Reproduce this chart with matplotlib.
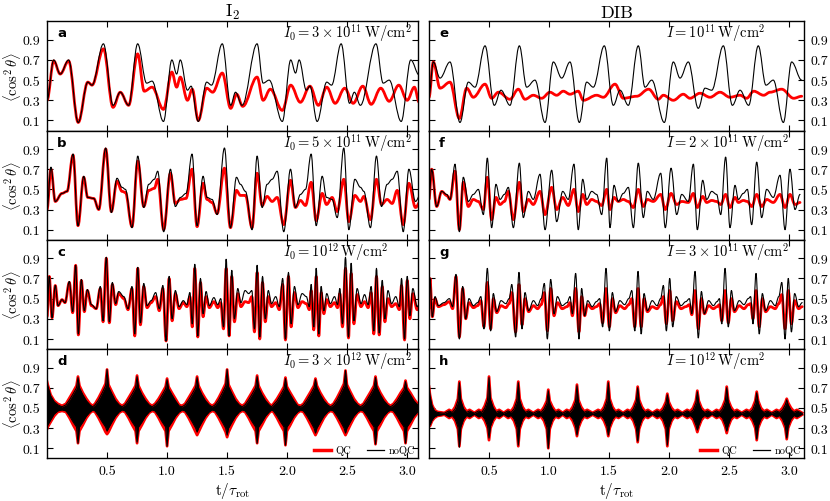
import matplotlib
matplotlib.use('Agg')
import matplotlib.pyplot as plt
from matplotlib.path import Path
from matplotlib.patches import PathPatch
from matplotlib.lines import Line2D

plt.rcParams['font.family'] = 'serif'
plt.rcParams['font.serif'] = ['cmr10']
plt.rcParams['mathtext.fontset'] = 'cm'
plt.rcParams['axes.formatter.use_mathtext'] = True
plt.rcParams['axes.unicode_minus'] = False

# ---------------- data: (t/tau_rot, <cos^2 theta>) extrema ----------------
a_qc = [(0.00,0.30),(0.056,0.69),(0.11,0.56),(0.18,0.69),(0.26,0.08),(0.34,0.48),(0.375,0.45),(0.47,0.81),
        (0.55,0.23),(0.61,0.38),(0.68,0.25),(0.755,0.76),(0.81,0.39),(0.875,0.43),(0.97,0.21),(1.04,0.58),
        (1.08,0.43),(1.11,0.53),(1.17,0.30),(1.21,0.41),(1.26,0.10),(1.33,0.42),(1.38,0.38),(1.46,0.57),
        (1.53,0.22),(1.58,0.36),(1.63,0.24),(1.75,0.53),(1.80,0.30),(1.86,0.41),(1.96,0.20),(2.03,0.45),
        (2.11,0.28),(2.19,0.44),(2.26,0.25),(2.33,0.43),(2.40,0.27),(2.48,0.42),(2.55,0.27),(2.63,0.44),
        (2.70,0.26),(2.78,0.42),(2.85,0.29),(2.93,0.45),(3.00,0.30),(3.06,0.43),(3.10,0.28)]
a_noqc = [(0.00,0.30),(0.056,0.70),(0.11,0.56),(0.18,0.70),(0.26,0.08),(0.34,0.48),(0.375,0.45),(0.47,0.86),
          (0.55,0.25),(0.61,0.38),(0.68,0.25),(0.755,0.86),(0.83,0.47),(0.875,0.49),(0.97,0.09),(1.04,0.70),
          (1.08,0.56),(1.11,0.70),(1.17,0.40),(1.20,0.44),(1.26,0.09),(1.33,0.48),(1.37,0.45),(1.46,0.86),
          (1.53,0.25),(1.57,0.38),(1.625,0.25),(1.75,0.86),(1.80,0.47),(1.85,0.50),(1.96,0.09),(2.03,0.70),
          (2.07,0.57),(2.10,0.70),(2.16,0.40),(2.19,0.44),(2.25,0.09),(2.33,0.48),(2.37,0.45),(2.45,0.86),
          (2.52,0.27),(2.56,0.38),(2.61,0.25),(2.74,0.86),(2.80,0.47),(2.85,0.50),(2.95,0.09),(3.03,0.70),(3.10,0.55)]

b_qc = [(0.00,0.30),(0.033,0.70),(0.069,0.38),(0.125,0.46),(0.167,0.48),(0.217,0.84),(0.258,0.14),(0.306,0.62),
        (0.339,0.42),(0.389,0.41),(0.431,0.30),(0.489,0.90),(0.536,0.28),(0.583,0.58),(0.625,0.48),(0.653,0.47),
        (0.708,0.13),(0.756,0.78),(0.806,0.33),(0.847,0.49),(0.894,0.51),(0.922,0.60),(0.972,0.10),(1.028,0.66),
        (1.069,0.36),(1.111,0.40),(1.158,0.41),(1.208,0.70),(1.25,0.13),(1.30,0.56),(1.333,0.40),(1.375,0.37),
        (1.417,0.26),(1.478,0.71),(1.528,0.12),(1.578,0.49),(1.611,0.44),(1.653,0.44),(1.708,0.12),(1.75,0.66),
        (1.792,0.34),(1.833,0.43),(1.875,0.38),(1.917,0.42),(1.972,0.15),(2.028,0.59),(2.069,0.32),(2.111,0.39),
        (2.153,0.34),(2.20,0.57),(2.242,0.19),(2.292,0.46),(2.328,0.35),(2.375,0.42),(2.417,0.28),(2.472,0.60),
        (2.514,0.18),(2.564,0.44),(2.611,0.38),(2.639,0.43),(2.694,0.20),(2.744,0.60),(2.786,0.35),(2.833,0.40),
        (2.875,0.36),(2.917,0.49),(2.967,0.15),(3.014,0.56),(3.069,0.32),(3.111,0.38)]
b_noqc = [(0.00,0.30),(0.033,0.72),(0.069,0.38),(0.125,0.46),(0.167,0.48),(0.217,0.85),(0.258,0.14),(0.306,0.63),
          (0.339,0.42),(0.389,0.41),(0.431,0.30),(0.489,0.91),(0.536,0.27),(0.583,0.61),(0.625,0.52),(0.653,0.50),
          (0.708,0.12),(0.756,0.83),(0.806,0.32),(0.847,0.55),(0.894,0.60),(0.922,0.68),(0.972,0.08),(1.028,0.70),
          (1.069,0.33),(1.111,0.42),(1.158,0.46),(1.208,0.85),(1.25,0.14),(1.30,0.63),(1.333,0.42),(1.375,0.40),
          (1.417,0.25),(1.478,0.91),(1.528,0.12),(1.578,0.62),(1.611,0.55),(1.653,0.48),(1.708,0.10),(1.75,0.83),
          (1.792,0.32),(1.833,0.55),(1.875,0.60),(1.917,0.68),(1.972,0.08),(2.028,0.70),(2.069,0.32),(2.111,0.45),
          (2.153,0.50),(2.20,0.85),(2.242,0.14),(2.292,0.63),(2.328,0.42),(2.375,0.40),(2.417,0.22),(2.472,0.91),
          (2.514,0.10),(2.564,0.60),(2.611,0.52),(2.639,0.48),(2.694,0.12),(2.744,0.83),(2.786,0.33),(2.833,0.55),
          (2.875,0.60),(2.917,0.68),(2.967,0.08),(3.014,0.70),(3.069,0.38),(3.111,0.45)]

c_qc = [(0.000,0.32),(0.019,0.72),(0.042,0.31),(0.069,0.63),(0.092,0.43),(0.125,0.49),(0.150,0.46),
        (0.186,0.66),(0.214,0.36),(0.239,0.83),(0.261,0.14),(0.286,0.68),(0.311,0.37),(0.336,0.58),(0.370,0.43),(0.410,0.40),
        (0.444,0.60),(0.467,0.27),(0.494,0.90),(0.519,0.26),(0.544,0.64),(0.572,0.44),(0.597,0.55),(0.640,0.50),(0.675,0.39),
        (0.708,0.60),(0.731,0.13),(0.756,0.80),(0.778,0.24),(0.806,0.62),(0.833,0.41),(0.867,0.46),(0.905,0.52),(0.935,0.38),
        (0.965,0.60),(0.992,0.08),(1.017,0.70),(1.042,0.28),(1.069,0.55),(1.100,0.40),(1.135,0.46),(1.165,0.42),
        (1.190,0.52),(1.210,0.22),(1.231,0.80),(1.256,0.12),(1.278,0.66),(1.300,0.32),(1.325,0.52),(1.352,0.41),(1.390,0.47),(1.422,0.41),
        (1.447,0.46),(1.470,0.20),(1.492,0.80),(1.517,0.13),(1.539,0.72),(1.561,0.27),(1.589,0.55),(1.615,0.42),(1.650,0.47),(1.680,0.46),
        (1.706,0.52),(1.728,0.17),(1.750,0.76),(1.772,0.10),(1.795,0.66),(1.818,0.27),(1.843,0.52),(1.870,0.42),(1.905,0.46),(1.935,0.39),
        (1.963,0.64),(1.986,0.09),(2.011,0.72),(2.033,0.22),(2.061,0.56),(2.090,0.41),(2.125,0.47),(2.160,0.45),(2.185,0.39),
        (2.200,0.58),(2.222,0.19),(2.242,0.72),(2.264,0.13),(2.283,0.56),(2.306,0.35),(2.330,0.49),(2.360,0.42),(2.395,0.46),(2.420,0.41),
        (2.439,0.55),(2.461,0.22),(2.486,0.80),(2.511,0.11),(2.533,0.75),(2.556,0.25),(2.583,0.54),(2.615,0.42),(2.645,0.47),(2.675,0.41),
        (2.700,0.56),(2.722,0.15),(2.744,0.72),(2.767,0.14),(2.792,0.62),(2.814,0.27),(2.840,0.50),(2.870,0.42),(2.905,0.45),(2.935,0.39),
        (2.953,0.63),(2.978,0.09),(3.000,0.68),(3.022,0.30),(3.047,0.55),(3.083,0.39),(3.110,0.42)]
c_noqc = [(0.000,0.32),(0.019,0.72),(0.042,0.31),(0.069,0.63),(0.092,0.43),(0.125,0.49),(0.150,0.46),
          (0.186,0.67),(0.214,0.37),(0.239,0.83),(0.261,0.15),(0.286,0.69),(0.311,0.38),(0.336,0.59),(0.370,0.44),(0.410,0.40),
          (0.444,0.62),(0.467,0.28),(0.494,0.91),(0.519,0.27),(0.544,0.66),(0.572,0.45),(0.597,0.57),(0.640,0.52),(0.675,0.40),
          (0.708,0.62),(0.731,0.15),(0.756,0.81),(0.778,0.26),(0.806,0.65),(0.833,0.43),(0.867,0.48),(0.905,0.56),(0.935,0.40),
          (0.965,0.63),(0.992,0.08),(1.017,0.72),(1.042,0.30),(1.069,0.58),(1.100,0.42),(1.135,0.48),(1.165,0.44),
          (1.190,0.56),(1.210,0.25),(1.231,0.84),(1.256,0.13),(1.278,0.70),(1.300,0.35),(1.325,0.57),(1.352,0.43),(1.390,0.51),(1.422,0.44),
          (1.447,0.50),(1.470,0.22),(1.492,0.89),(1.517,0.13),(1.539,0.78),(1.561,0.30),(1.589,0.60),(1.615,0.46),(1.650,0.58),(1.680,0.55),
          (1.706,0.58),(1.728,0.20),(1.750,0.83),(1.772,0.12),(1.795,0.72),(1.818,0.30),(1.843,0.58),(1.870,0.45),(1.905,0.52),(1.935,0.42),
          (1.963,0.70),(1.986,0.10),(2.011,0.76),(2.033,0.25),(2.061,0.62),(2.090,0.44),(2.125,0.55),(2.160,0.52),(2.185,0.42),
          (2.200,0.64),(2.222,0.22),(2.242,0.80),(2.264,0.15),(2.283,0.62),(2.306,0.38),(2.330,0.55),(2.360,0.45),(2.395,0.52),(2.420,0.44),
          (2.439,0.60),(2.461,0.25),(2.486,0.91),(2.511,0.12),(2.533,0.85),(2.556,0.28),(2.583,0.60),(2.615,0.45),(2.645,0.54),(2.675,0.44),
          (2.700,0.62),(2.722,0.18),(2.744,0.80),(2.767,0.16),(2.792,0.68),(2.814,0.30),(2.840,0.58),(2.870,0.45),(2.905,0.52),(2.935,0.42),
          (2.953,0.70),(2.978,0.10),(3.000,0.72),(3.022,0.33),(3.047,0.60),(3.083,0.42),(3.110,0.48)]

e_qc = [(0.00,0.33),(0.036,0.68),(0.092,0.42),(0.175,0.48),(0.253,0.12),(0.314,0.42),(0.369,0.33),(0.467,0.46),
        (0.522,0.32),(0.578,0.38),(0.675,0.31),(0.744,0.41),(0.80,0.31),(0.869,0.35),(0.939,0.32),(1.008,0.38),
        (1.064,0.35),(1.119,0.39),(1.175,0.36),(1.244,0.39),(1.286,0.30),(1.397,0.35),(1.453,0.33),(1.55,0.46),
        (1.619,0.32),(1.731,0.34),(1.83,0.41),(1.911,0.31),(1.953,0.35),(2.036,0.30),(2.119,0.36),(2.175,0.32),
        (2.258,0.37),(2.342,0.33),(2.425,0.38),(2.508,0.33),(2.592,0.35),(2.647,0.32),(2.706,0.39),(2.789,0.35),
        (2.842,0.38),(2.939,0.41),(3.039,0.32),(3.106,0.34)]
e_noqc = [(0.00,0.35),(0.036,0.68),(0.092,0.52),(0.175,0.68),(0.258,0.08),(0.328,0.48),(0.383,0.43),(0.467,0.84),
          (0.544,0.25),(0.60,0.40),(0.675,0.25),(0.753,0.84),(0.814,0.43),(0.883,0.50),(0.967,0.08),(1.036,0.68),
          (1.106,0.52),(1.175,0.68),(1.253,0.08),(1.314,0.48),(1.369,0.43),(1.461,0.84),(1.536,0.25),(1.592,0.40),
          (1.661,0.25),(1.744,0.84),(1.80,0.43),(1.856,0.50),(1.961,0.08),(2.036,0.68),(2.092,0.52),(2.161,0.68),
          (2.244,0.22),(2.300,0.42),(2.356,0.40),(2.453,0.84),(2.528,0.25),(2.592,0.40),(2.664,0.25),(2.744,0.84),
          (2.808,0.45),(2.869,0.50),(2.953,0.08),(3.022,0.68),(3.106,0.50)]

f_qc = [(0.0,0.40),(0.022,0.70),(0.064,0.33),(0.106,0.48),(0.147,0.44),(0.175,0.40),(0.217,0.68),(0.253,0.10),
        (0.286,0.57),(0.328,0.33),(0.369,0.40),(0.411,0.38),(0.453,0.30),(0.486,0.62),(0.522,0.20),(0.558,0.42),
        (0.592,0.35),(0.628,0.38),(0.661,0.48),(0.703,0.20),(0.753,0.57),(0.786,0.28),(0.828,0.40),(0.869,0.35),
        (0.925,0.48),(0.967,0.25),(1.022,0.52),(1.064,0.30),(1.114,0.42),(1.161,0.34),(1.208,0.50),(1.244,0.28),
        (1.281,0.45),(1.314,0.35),(1.356,0.40),(1.397,0.38),(1.439,0.34),(1.481,0.50),(1.508,0.30),(1.542,0.42),
        (1.578,0.38),(1.619,0.40),(1.661,0.38),(1.703,0.32),(1.744,0.50),(1.786,0.33),(1.819,0.40),(1.869,0.38),
        (1.931,0.45),(1.969,0.30),(2.017,0.46),(2.064,0.35),(2.106,0.38),(2.161,0.37),(2.203,0.46),(2.236,0.32),
        (2.281,0.43),(2.314,0.37),(2.356,0.39),(2.397,0.38),(2.431,0.35),(2.472,0.45),(2.508,0.32),(2.55,0.42),
        (2.578,0.37),(2.619,0.39),(2.653,0.38),(2.689,0.33),(2.731,0.45),(2.772,0.33),(2.814,0.40),(2.869,0.37),
        (2.925,0.45),(2.967,0.32),(3.008,0.45),(3.05,0.35),(3.092,0.37)]
f_noqc = [(0.0,0.40),(0.022,0.70),(0.064,0.33),(0.106,0.48),(0.147,0.45),(0.175,0.40),(0.217,0.75),(0.253,0.08),
          (0.286,0.62),(0.328,0.38),(0.369,0.45),(0.411,0.50),(0.453,0.25),(0.486,0.81),(0.522,0.12),(0.558,0.55),
          (0.592,0.40),(0.628,0.45),(0.661,0.52),(0.703,0.12),(0.753,0.76),(0.786,0.22),(0.828,0.48),(0.869,0.40),
          (0.925,0.65),(0.967,0.10),(1.022,0.69),(1.064,0.18),(1.114,0.48),(1.161,0.40),(1.208,0.75),(1.244,0.10),
          (1.281,0.60),(1.314,0.40),(1.356,0.48),(1.397,0.45),(1.439,0.25),(1.481,0.81),(1.508,0.12),(1.542,0.54),
          (1.578,0.38),(1.619,0.46),(1.661,0.52),(1.703,0.12),(1.744,0.76),(1.786,0.22),(1.819,0.48),(1.869,0.40),
          (1.931,0.66),(1.969,0.12),(2.017,0.71),(2.064,0.25),(2.106,0.45),(2.161,0.38),(2.203,0.75),(2.236,0.10),
          (2.281,0.59),(2.314,0.40),(2.356,0.48),(2.397,0.45),(2.431,0.25),(2.472,0.82),(2.508,0.12),(2.55,0.54),
          (2.578,0.40),(2.619,0.46),(2.653,0.50),(2.689,0.15),(2.731,0.77),(2.772,0.22),(2.814,0.50),(2.869,0.42),
          (2.925,0.64),(2.967,0.10),(3.008,0.70),(3.05,0.30),(3.092,0.45)]

g_qc = [(0.000,0.40),(0.008,0.70),(0.028,0.32),(0.050,0.50),(0.078,0.42),(0.125,0.44),(0.170,0.47),(0.197,0.40),
        (0.225,0.72),(0.253,0.12),(0.281,0.60),(0.306,0.30),(0.333,0.46),(0.370,0.41),(0.405,0.43),(0.432,0.48),
        (0.458,0.22),(0.486,0.66),(0.514,0.20),(0.536,0.50),(0.564,0.36),(0.600,0.43),(0.640,0.41),(0.668,0.45),
        (0.690,0.56),(0.722,0.17),(0.750,0.64),(0.775,0.24),(0.800,0.50),(0.830,0.37),(0.870,0.43),(0.905,0.40),(0.935,0.44),
        (0.961,0.56),(0.986,0.18),(1.014,0.60),(1.042,0.33),(1.070,0.46),(1.110,0.40),(1.150,0.42),(1.175,0.46),
        (1.195,0.33),(1.222,0.60),(1.250,0.17),(1.272,0.52),(1.297,0.33),(1.322,0.44),(1.360,0.40),(1.395,0.42),(1.422,0.45),
        (1.447,0.26),(1.475,0.60),(1.503,0.22),(1.528,0.50),(1.555,0.36),(1.590,0.43),(1.630,0.40),(1.665,0.44),
        (1.690,0.50),(1.715,0.22),(1.742,0.60),(1.768,0.22),(1.792,0.50),(1.820,0.37),(1.860,0.42),(1.900,0.40),(1.930,0.44),
        (1.953,0.52),(1.978,0.25),(2.006,0.58),(2.031,0.28),(2.060,0.47),(2.100,0.40),(2.140,0.42),(2.170,0.44),
        (2.190,0.34),(2.217,0.58),(2.244,0.20),(2.270,0.50),(2.295,0.35),(2.330,0.43),(2.370,0.40),(2.400,0.42),(2.420,0.44),
        (2.440,0.28),(2.467,0.58),(2.494,0.26),(2.520,0.50),(2.545,0.37),(2.585,0.43),(2.625,0.40),(2.660,0.44),(2.680,0.45),
        (2.700,0.30),(2.725,0.58),(2.752,0.22),(2.778,0.50),(2.805,0.37),(2.845,0.42),(2.885,0.40),(2.915,0.45),
        (2.940,0.54),(2.967,0.20),(2.994,0.58),(3.020,0.25),(3.047,0.48),(3.080,0.40),(3.110,0.42)]
g_noqc = [(0.000,0.40),(0.008,0.70),(0.028,0.32),(0.050,0.52),(0.078,0.43),(0.125,0.46),(0.170,0.50),(0.197,0.42),
          (0.225,0.74),(0.253,0.10),(0.281,0.62),(0.306,0.30),(0.333,0.50),(0.370,0.43),(0.405,0.46),(0.432,0.52),
          (0.458,0.20),(0.486,0.80),(0.514,0.18),(0.536,0.55),(0.564,0.37),(0.600,0.48),(0.640,0.45),(0.668,0.50),
          (0.690,0.64),(0.722,0.12),(0.750,0.76),(0.775,0.20),(0.800,0.56),(0.830,0.38),(0.870,0.48),(0.905,0.43),(0.935,0.50),
          (0.961,0.65),(0.986,0.10),(1.014,0.69),(1.042,0.35),(1.070,0.52),(1.110,0.43),(1.150,0.46),(1.175,0.52),
          (1.195,0.35),(1.222,0.75),(1.250,0.10),(1.272,0.60),(1.297,0.33),(1.322,0.48),(1.360,0.42),(1.395,0.47),(1.422,0.50),
          (1.447,0.22),(1.475,0.80),(1.503,0.18),(1.528,0.56),(1.555,0.37),(1.590,0.48),(1.630,0.44),(1.665,0.50),
          (1.690,0.58),(1.715,0.18),(1.742,0.77),(1.768,0.15),(1.792,0.55),(1.820,0.38),(1.860,0.48),(1.900,0.43),(1.930,0.50),
          (1.953,0.63),(1.978,0.18),(2.006,0.70),(2.031,0.22),(2.060,0.52),(2.100,0.43),(2.140,0.47),(2.170,0.50),
          (2.190,0.35),(2.217,0.77),(2.244,0.11),(2.270,0.57),(2.295,0.35),(2.330,0.48),(2.370,0.43),(2.400,0.47),(2.420,0.50),
          (2.440,0.25),(2.467,0.80),(2.494,0.22),(2.520,0.58),(2.545,0.38),(2.585,0.48),(2.625,0.44),(2.660,0.50),(2.680,0.52),
          (2.700,0.25),(2.725,0.75),(2.752,0.15),(2.778,0.55),(2.805,0.38),(2.845,0.48),(2.885,0.43),(2.915,0.52),
          (2.940,0.66),(2.967,0.10),(2.994,0.70),(3.020,0.17),(3.047,0.55),(3.080,0.42),(3.110,0.46)]

# dense panels d, h: envelope (upper / lower) of the fast oscillation
d_t = [0.000,0.006,0.030,0.060,0.090,0.125,
       0.158,0.188,0.218,0.246,0.258,0.270,0.298,0.328,0.358,0.380,
       0.400,0.430,0.460,0.488,0.500,0.512,0.540,0.570,0.600,0.625,
       0.650,0.680,0.710,0.738,0.750,0.762,0.790,0.820,0.850,0.875,
       0.900,0.930,0.960,0.988,1.000,1.012,1.040,1.070,1.100,1.125,
       1.150,1.180,1.210,1.238,1.250,1.262,1.290,1.320,1.350,1.375,
       1.400,1.430,1.460,1.488,1.500,1.512,1.540,1.570,1.600,1.625,
       1.650,1.680,1.710,1.738,1.750,1.762,1.790,1.820,1.850,1.870,
       1.886,1.916,1.946,1.974,1.986,1.998,2.026,2.056,2.086,2.111,
       2.136,2.166,2.196,2.224,2.236,2.248,2.276,2.306,2.336,2.361,
       2.386,2.416,2.446,2.474,2.486,2.498,2.526,2.556,2.586,2.611,
       2.636,2.666,2.696,2.724,2.736,2.748,2.776,2.806,2.836,2.861,
       2.886,2.916,2.946,2.974,2.986,2.998,3.026,3.056,3.086,3.110]
d_noqc_hi = [0.75,0.72,0.62,0.56,0.53,0.51,
             0.53,0.58,0.64,0.70,0.80,0.70,0.63,0.57,0.53,0.51,
             0.53,0.58,0.65,0.72,0.88,0.71,0.64,0.57,0.53,0.51,
             0.53,0.58,0.64,0.70,0.81,0.70,0.63,0.57,0.53,0.51,
             0.53,0.57,0.63,0.69,0.78,0.69,0.63,0.57,0.52,0.51,
             0.53,0.58,0.64,0.70,0.80,0.70,0.63,0.57,0.53,0.51,
             0.53,0.58,0.65,0.72,0.88,0.71,0.64,0.57,0.53,0.51,
             0.53,0.58,0.64,0.70,0.81,0.70,0.63,0.57,0.53,0.51,
             0.53,0.57,0.63,0.69,0.79,0.69,0.63,0.57,0.52,0.51,
             0.53,0.58,0.64,0.70,0.78,0.70,0.63,0.57,0.53,0.51,
             0.53,0.58,0.65,0.72,0.87,0.71,0.64,0.57,0.53,0.51,
             0.53,0.58,0.64,0.70,0.80,0.70,0.63,0.57,0.53,0.51,
             0.53,0.57,0.63,0.68,0.76,0.68,0.63,0.57,0.53,0.52]
d_noqc_lo = [0.30,0.33,0.38,0.44,0.47,0.48,
             0.47,0.42,0.36,0.31,0.15,0.31,0.36,0.42,0.46,0.48,
             0.47,0.42,0.36,0.31,0.27,0.30,0.36,0.42,0.46,0.48,
             0.47,0.42,0.36,0.31,0.16,0.31,0.36,0.42,0.46,0.48,
             0.47,0.42,0.36,0.31,0.12,0.31,0.36,0.42,0.46,0.48,
             0.47,0.42,0.36,0.30,0.26,0.30,0.36,0.42,0.46,0.48,
             0.47,0.42,0.36,0.30,0.23,0.30,0.36,0.42,0.46,0.48,
             0.47,0.42,0.36,0.31,0.15,0.31,0.36,0.42,0.46,0.48,
             0.47,0.42,0.36,0.31,0.13,0.31,0.36,0.42,0.46,0.48,
             0.47,0.42,0.36,0.30,0.25,0.30,0.36,0.42,0.46,0.48,
             0.47,0.42,0.36,0.30,0.25,0.30,0.36,0.42,0.46,0.48,
             0.47,0.42,0.36,0.31,0.14,0.31,0.36,0.42,0.46,0.48,
             0.47,0.42,0.36,0.31,0.15,0.31,0.36,0.42,0.46,0.47]
d_qc_hi = [0.76,0.73,0.63,0.57,0.54,0.52,
           0.54,0.60,0.66,0.72,0.81,0.72,0.65,0.59,0.54,0.52,
           0.54,0.60,0.67,0.74,0.88,0.73,0.66,0.59,0.54,0.52,
           0.54,0.60,0.66,0.72,0.82,0.72,0.65,0.59,0.54,0.52,
           0.54,0.59,0.65,0.71,0.79,0.71,0.65,0.59,0.53,0.52,
           0.54,0.60,0.66,0.72,0.81,0.72,0.65,0.59,0.54,0.52,
           0.54,0.60,0.67,0.74,0.88,0.73,0.66,0.59,0.54,0.52,
           0.54,0.60,0.66,0.72,0.82,0.72,0.65,0.59,0.54,0.52,
           0.54,0.59,0.65,0.71,0.80,0.71,0.65,0.59,0.53,0.52,
           0.54,0.60,0.66,0.72,0.79,0.72,0.65,0.59,0.54,0.52,
           0.54,0.60,0.67,0.74,0.87,0.73,0.66,0.59,0.54,0.52,
           0.54,0.60,0.66,0.72,0.81,0.72,0.65,0.59,0.54,0.52,
           0.54,0.59,0.65,0.70,0.77,0.70,0.65,0.59,0.54,0.53]
d_qc_lo = [0.29,0.31,0.36,0.42,0.46,0.47,
           0.46,0.40,0.33,0.27,0.15,0.27,0.33,0.40,0.45,0.47,
           0.46,0.40,0.33,0.26,0.24,0.26,0.33,0.40,0.45,0.47,
           0.46,0.40,0.33,0.27,0.15,0.27,0.33,0.40,0.45,0.47,
           0.46,0.40,0.33,0.27,0.12,0.27,0.33,0.40,0.45,0.47,
           0.46,0.40,0.33,0.26,0.23,0.26,0.33,0.40,0.45,0.47,
           0.46,0.40,0.33,0.26,0.21,0.26,0.33,0.40,0.45,0.47,
           0.46,0.40,0.33,0.27,0.15,0.27,0.33,0.40,0.45,0.47,
           0.46,0.40,0.33,0.27,0.13,0.27,0.33,0.40,0.45,0.47,
           0.46,0.40,0.33,0.26,0.23,0.26,0.33,0.40,0.45,0.47,
           0.46,0.40,0.33,0.26,0.23,0.26,0.33,0.40,0.45,0.47,
           0.46,0.40,0.33,0.27,0.14,0.27,0.33,0.40,0.45,0.47,
           0.46,0.40,0.33,0.27,0.15,0.27,0.33,0.40,0.45,0.46]

h_t = [0.000,0.008,0.025,0.045,0.070,0.100,0.128,
       0.168,0.193,0.218,0.241,0.253,0.265,0.288,0.313,0.338,0.378,
       0.415,0.440,0.465,0.488,0.500,0.512,0.535,0.560,0.585,0.622,
       0.659,0.684,0.709,0.732,0.744,0.756,0.779,0.804,0.829,0.869,
       0.909,0.934,0.959,0.982,0.994,1.006,1.029,1.054,1.079,1.114,
       1.148,1.173,1.198,1.221,1.233,1.245,1.268,1.293,1.318,1.364,
       1.409,1.434,1.459,1.482,1.494,1.506,1.529,1.554,1.579,1.617,
       1.654,1.679,1.704,1.727,1.739,1.751,1.774,1.799,1.824,1.862,
       1.901,1.926,1.951,1.974,1.986,1.998,2.021,2.046,2.071,2.111,
       2.151,2.176,2.201,2.224,2.236,2.248,2.271,2.296,2.321,2.358,
       2.396,2.421,2.446,2.469,2.481,2.493,2.516,2.541,2.566,2.606,
       2.646,2.671,2.696,2.719,2.731,2.743,2.766,2.791,2.816,2.856,
       2.896,2.921,2.946,2.969,2.981,2.993,3.016,3.041,3.066,3.110]
h_noqc_hi = [0.70,0.62,0.52,0.47,0.455,0.45,0.447,
             0.47,0.455,0.49,0.57,0.75,0.57,0.49,0.455,0.47,0.447,
             0.47,0.455,0.50,0.58,0.80,0.58,0.50,0.455,0.47,0.447,
             0.47,0.455,0.49,0.57,0.75,0.57,0.49,0.455,0.47,0.447,
             0.47,0.455,0.49,0.55,0.67,0.55,0.49,0.455,0.47,0.447,
             0.47,0.455,0.49,0.56,0.72,0.56,0.49,0.455,0.47,0.447,
             0.47,0.455,0.49,0.57,0.75,0.57,0.49,0.455,0.47,0.447,
             0.47,0.455,0.49,0.56,0.70,0.56,0.49,0.455,0.47,0.447,
             0.47,0.455,0.48,0.54,0.63,0.54,0.48,0.455,0.47,0.447,
             0.47,0.455,0.48,0.55,0.66,0.55,0.48,0.455,0.47,0.447,
             0.47,0.455,0.49,0.56,0.70,0.56,0.49,0.455,0.47,0.447,
             0.47,0.455,0.48,0.55,0.65,0.55,0.48,0.455,0.47,0.447,
             0.47,0.455,0.48,0.53,0.58,0.53,0.48,0.455,0.47,0.447]
h_noqc_lo = [0.35,0.33,0.38,0.41,0.425,0.43,0.437,
             0.41,0.425,0.39,0.31,0.11,0.31,0.39,0.425,0.41,0.437,
             0.41,0.425,0.39,0.32,0.20,0.32,0.39,0.425,0.41,0.437,
             0.41,0.425,0.39,0.31,0.13,0.31,0.39,0.425,0.41,0.437,
             0.41,0.425,0.39,0.31,0.10,0.31,0.39,0.425,0.41,0.437,
             0.41,0.425,0.39,0.32,0.23,0.32,0.39,0.425,0.41,0.437,
             0.41,0.425,0.39,0.32,0.23,0.32,0.39,0.425,0.41,0.437,
             0.41,0.425,0.39,0.31,0.17,0.31,0.39,0.425,0.41,0.437,
             0.41,0.425,0.39,0.31,0.13,0.31,0.39,0.425,0.41,0.437,
             0.41,0.425,0.40,0.33,0.28,0.33,0.40,0.425,0.41,0.437,
             0.41,0.425,0.40,0.33,0.27,0.33,0.40,0.425,0.41,0.437,
             0.41,0.425,0.39,0.32,0.19,0.32,0.39,0.425,0.41,0.437,
             0.41,0.425,0.39,0.32,0.20,0.32,0.39,0.425,0.41,0.437]
h_qc_hi = [0.71,0.63,0.53,0.48,0.46,0.455,0.45,
           0.48,0.465,0.51,0.59,0.76,0.59,0.51,0.465,0.48,0.45,
           0.48,0.465,0.52,0.60,0.81,0.60,0.52,0.465,0.48,0.45,
           0.48,0.465,0.51,0.59,0.76,0.59,0.51,0.465,0.48,0.45,
           0.48,0.465,0.51,0.57,0.68,0.57,0.51,0.465,0.48,0.45,
           0.48,0.465,0.51,0.58,0.73,0.58,0.51,0.465,0.48,0.45,
           0.48,0.465,0.51,0.59,0.76,0.59,0.51,0.465,0.48,0.45,
           0.48,0.465,0.51,0.58,0.71,0.58,0.51,0.465,0.48,0.45,
           0.48,0.465,0.50,0.56,0.64,0.56,0.50,0.465,0.48,0.45,
           0.48,0.465,0.50,0.57,0.67,0.57,0.50,0.465,0.48,0.45,
           0.48,0.465,0.51,0.58,0.71,0.58,0.51,0.465,0.48,0.45,
           0.48,0.465,0.50,0.57,0.66,0.57,0.50,0.465,0.48,0.45,
           0.48,0.465,0.50,0.55,0.59,0.55,0.50,0.465,0.48,0.45]
h_qc_lo = [0.34,0.32,0.37,0.40,0.42,0.425,0.433,
           0.40,0.415,0.37,0.29,0.12,0.29,0.37,0.415,0.40,0.433,
           0.40,0.415,0.37,0.30,0.18,0.30,0.37,0.415,0.40,0.433,
           0.40,0.415,0.37,0.29,0.12,0.29,0.37,0.415,0.40,0.433,
           0.40,0.415,0.37,0.29,0.10,0.29,0.37,0.415,0.40,0.433,
           0.40,0.415,0.37,0.30,0.22,0.30,0.37,0.415,0.40,0.433,
           0.40,0.415,0.37,0.30,0.22,0.30,0.37,0.415,0.40,0.433,
           0.40,0.415,0.37,0.29,0.16,0.29,0.37,0.415,0.40,0.433,
           0.40,0.415,0.37,0.29,0.12,0.29,0.37,0.415,0.40,0.433,
           0.40,0.415,0.38,0.31,0.26,0.31,0.38,0.415,0.40,0.433,
           0.40,0.415,0.38,0.31,0.25,0.31,0.38,0.415,0.40,0.433,
           0.40,0.415,0.37,0.30,0.18,0.30,0.37,0.415,0.40,0.433,
           0.40,0.415,0.37,0.30,0.19,0.30,0.37,0.415,0.40,0.433]

letters = ['a', 'b', 'c', 'd', 'e', 'f', 'g', 'h']
left_labels = [r'$I_0 = 3\times10^{11}\,\mathrm{W/cm^2}$', r'$I_0 = 5\times10^{11}\,\mathrm{W/cm^2}$',
               r'$I_0 = 10^{12}\,\mathrm{W/cm^2}$', r'$I_0 = 3\times10^{12}\,\mathrm{W/cm^2}$']
right_labels = [r'$I = 10^{11}\,\mathrm{W/cm^2}$', r'$I = 2\times10^{11}\,\mathrm{W/cm^2}$',
                r'$I = 3\times10^{11}\,\mathrm{W/cm^2}$', r'$I = 10^{12}\,\mathrm{W/cm^2}$']
col_titles = [r'$\mathrm{I}_2$', 'DIB']
xticks = [0.5, 1.0, 1.5, 2.0, 2.5, 3.0]
xticklabels = ['0.5', '1.0', '1.5', '2.0', '2.5', '3.0']
yticks = [0.1, 0.3, 0.5, 0.7, 0.9]
yticklabels = ['0.1', '0.3', '0.5', '0.7', '0.9']

RED = '#ff0000'
LW_RED, LW_BLK = 2.0, 0.8


def smooth_curve(ax, pts, color, lw, z):
    """Draw a smooth line through the read extrema (horizontal tangent at each)."""
    k = 0.3642
    verts = [pts[0]]
    codes = [Path.MOVETO]
    for (x0, y0), (x1, y1) in zip(pts[:-1], pts[1:]):
        dx = x1 - x0
        verts += [(x0 + k * dx, y0), (x1 - k * dx, y1), (x1, y1)]
        codes += [Path.CURVE4] * 3
    ax.add_patch(PathPatch(Path(verts, codes), facecolor='none', edgecolor=color,
                           lw=lw, joinstyle='round', capstyle='round', zorder=z))


def envelope(ax, t, hi, lo, color, lw, z):
    ax.fill_between(t, lo, hi, color=color, lw=0, zorder=z)
    ax.plot(t, hi, color=color, lw=lw, zorder=z)
    ax.plot(t, lo, color=color, lw=lw, zorder=z)


fig = plt.figure(figsize=(8.3, 5.02), dpi=100)
W, H = 830.0, 502.0
row_h = 109.25
top0 = 22.3
cols = [(47.0, 371.0, 3.09), (429.0, 375.0, 3.125)]

axes = {}
for ci, (x0, w, xmax) in enumerate(cols):
    for ri in range(4):
        top = top0 + ri * row_h
        ax = fig.add_axes([x0 / W, 1 - (top + row_h) / H, w / W, row_h / H])
        ax.set_xlim(0, xmax)
        ax.set_ylim(0, 1.083)
        ax.set_xticks(xticks)
        ax.set_yticks(yticks)
        ax.tick_params(direction='in', top=True, bottom=True, left=True, right=True,
                       length=4, width=0.8, labelsize=10, pad=5)
        if ri == 3:
            ax.set_xticklabels(xticklabels)
            ax.set_xlabel(r'$\mathrm{t}/\tau_{\mathrm{rot}}$', fontsize=11, labelpad=2)
        else:
            ax.set_xticklabels([])
        ax.set_yticklabels(yticklabels)
        if ci == 0:
            ax.set_ylabel(r'$\langle\cos^2\theta\rangle$', fontsize=10.5)
            ax.yaxis.set_label_coords(-0.066, 0.5)
        else:
            ax.tick_params(labelleft=False, labelright=True)
        for sp in ax.spines.values():
            sp.set_linewidth(1.0)
        letter = letters[ci * 4 + ri]
        ax.text(0.027, 0.895, letter, transform=ax.transAxes, fontsize=9.5,
                fontfamily='DejaVu Sans', fontweight='bold', va='center', ha='left')
        lab = left_labels[ri] if ci == 0 else right_labels[ri]
        ax.text(0.637 if ci == 0 else 0.633, 0.89, lab, transform=ax.transAxes,
                fontsize=10.5, va='center', ha='left')
        if ri == 0:
            ax.set_title(col_titles[ci], fontsize=13, pad=3)
        axes[letter] = ax

smooth_pairs = {'a': (a_qc, a_noqc), 'b': (b_qc, b_noqc), 'c': (c_qc, c_noqc),
                'e': (e_qc, e_noqc), 'f': (f_qc, f_noqc), 'g': (g_qc, g_noqc)}
for key, (qc, noqc) in smooth_pairs.items():
    smooth_curve(axes[key], qc, RED, LW_RED, 2)
    smooth_curve(axes[key], noqc, 'black', LW_BLK, 3)

envelope(axes['d'], d_t, d_qc_hi, d_qc_lo, RED, LW_RED, 2)
envelope(axes['d'], d_t, d_noqc_hi, d_noqc_lo, 'black', LW_BLK, 3)
envelope(axes['h'], h_t, h_qc_hi, h_qc_lo, RED, LW_RED, 2)
envelope(axes['h'], h_t, h_noqc_hi, h_noqc_lo, 'black', LW_BLK, 3)

handles = [Line2D([], [], color=RED, lw=2.5), Line2D([], [], color='black', lw=0.9)]
for key in ['d', 'h']:
    axes[key].legend(handles, ['QC', 'noQC'], loc='lower right', ncol=2, frameon=False,
                     fontsize=7.5, handlelength=1.6, handletextpad=0.4, columnspacing=1.6,
                     borderaxespad=0.1, borderpad=0.2)

fig.savefig('out.png', dpi=100)
